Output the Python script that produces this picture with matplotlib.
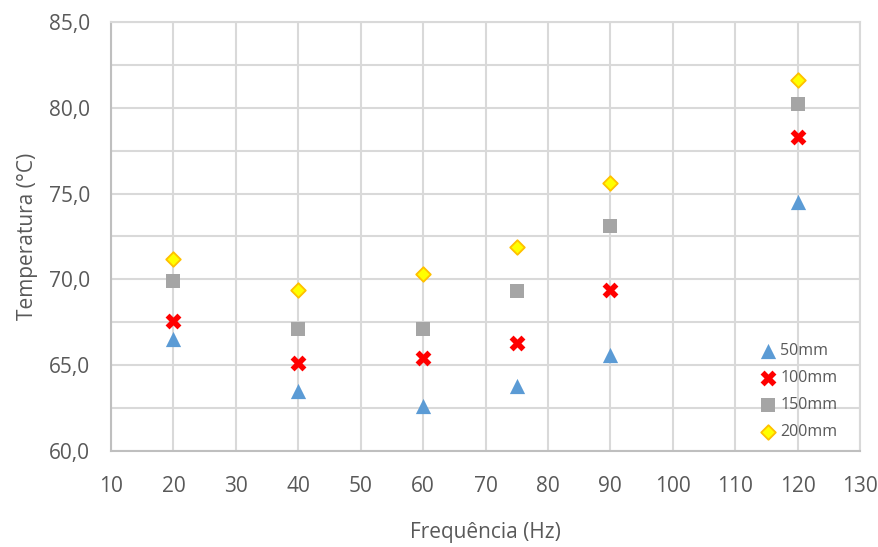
import matplotlib
matplotlib.use("Agg")
import matplotlib.pyplot as plt
from matplotlib.ticker import FuncFormatter, MultipleLocator

plt.rcParams['font.family'] = ['Open Sans', 'DejaVu Sans']

freq = [20, 40, 60, 75, 90, 120]
t_50mm = [66.5, 63.5, 62.6, 63.8, 65.6, 74.5]
t_100mm = [67.6, 65.1, 65.4, 66.3, 69.4, 78.3]
t_150mm = [69.9, 67.1, 67.1, 69.3, 73.1, 80.2]
t_200mm = [71.2, 69.4, 70.3, 71.9, 75.6, 81.6]
labels = ["50mm", "100mm", "150mm", "200mm"]

text_color = "#595959"
grid_color = "#D9D9D9"

fig = plt.figure(figsize=(8.79, 5.47), dpi=100)
ax = fig.add_axes([0.1263, 0.1755, 0.8521, 0.7843])

ax.scatter(freq, t_50mm, marker="^", s=120, color="#5B9BD5", linewidths=0, label=labels[0], zorder=3)
ax.scatter(freq, t_100mm, marker="X", s=130, color="#FF0000", linewidths=0, label=labels[1], zorder=3)
ax.scatter(freq, t_150mm, marker="s", s=100, color="#A5A5A5", linewidths=0, label=labels[2], zorder=3)
ax.scatter(freq, t_200mm, marker="D", s=55, facecolor="#FFFF00", edgecolor="#FFC000", linewidths=1.3, label=labels[3], zorder=3)

ax.set_xlim(10, 130)
ax.set_ylim(60, 85)
ax.xaxis.set_major_locator(MultipleLocator(10))
ax.yaxis.set_major_locator(MultipleLocator(5))
ax.yaxis.set_minor_locator(MultipleLocator(2.5))
ax.yaxis.set_major_formatter(FuncFormatter(lambda v, p: f"{v:.1f}".replace(".", ",")))

ax.grid(True, which="both", color=grid_color, linewidth=1.5, zorder=0)
ax.set_axisbelow(True)
for side in ["top", "right"]:
    ax.spines[side].set_color(grid_color)
    ax.spines[side].set_linewidth(1.5)
for side in ["left", "bottom"]:
    ax.spines[side].set_color("#BFBFBF")
    ax.spines[side].set_linewidth(1.5)

ax.tick_params(axis="both", which="both", length=0, labelsize=15, colors=text_color)
ax.tick_params(axis="x", pad=18)
ax.tick_params(axis="y", pad=15)

ax.set_xlabel("Frequência (Hz)", fontsize=15, color=text_color, labelpad=18)
ax.set_ylabel("Temperatura (°C)", fontsize=15, color=text_color, labelpad=8)

leg = ax.legend(loc="lower right", bbox_to_anchor=(0.985, 0.0), frameon=False, fontsize=11.5,
                labelcolor=text_color, handletextpad=0.0, labelspacing=0.68, handlelength=1.5,
                borderaxespad=0.3)

fig.savefig("out.png", dpi=100)
